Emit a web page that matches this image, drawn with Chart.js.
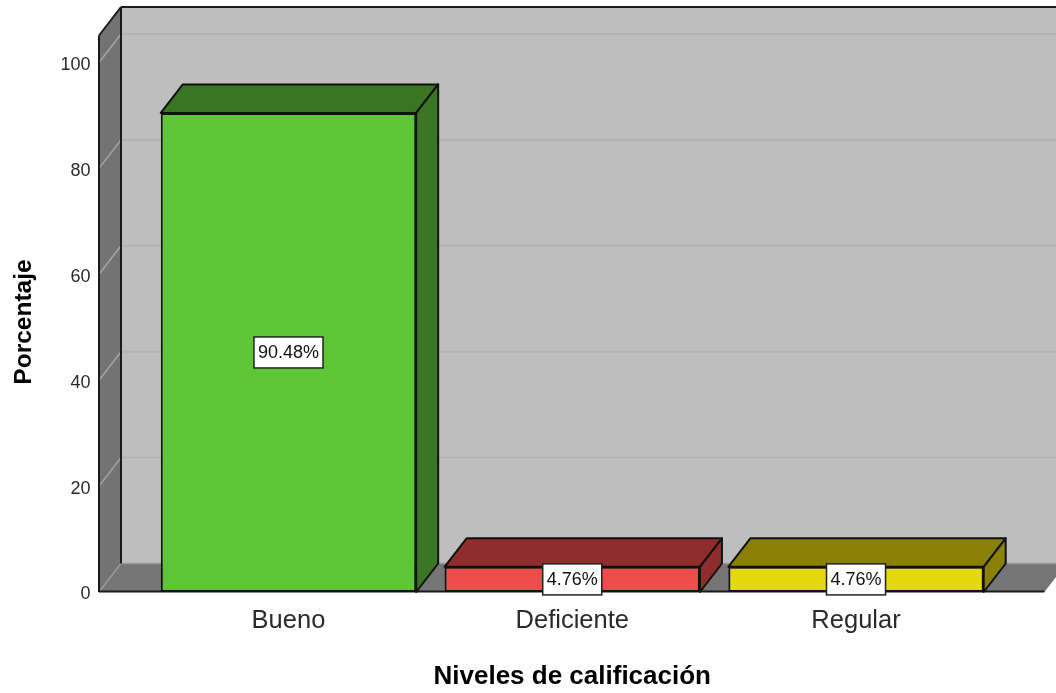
<!DOCTYPE html>
<html>
<head>
<meta charset="utf-8">
<script src="https://cdn.jsdelivr.net/npm/chart.js@4/dist/chart.umd.min.js"></script>
<style>
html,body{margin:0;padding:0;background:#fff;overflow:hidden}
canvas{display:block;filter:blur(0.45px)}
</style>
</head>
<body>
<canvas id="c" width="1056" height="693"></canvas>
<script>
const categories = ['Bueno', 'Deficiente', 'Regular'];
const values = [90.48, 4.76, 4.76];
const frontColors = ['#5DC536', '#EF4C4C', '#E6D80E'];
const depthColors = ['#3A7523', '#8F2D2D', '#8A8006'];
const yTicks = [0, 20, 40, 60, 80, 100];
const yTitle = 'Porcentaje';
const xTitle = 'Niveles de calificación';

const DX = 22, DY = -28.5;
const FONT = '"Liberation Sans", Arial, sans-serif';

function poly(ctx, pts, fill, stroke, lw) {
  ctx.beginPath();
  pts.forEach((p, i) => i ? ctx.lineTo(p[0], p[1]) : ctx.moveTo(p[0], p[1]));
  ctx.closePath();
  if (fill) { ctx.fillStyle = fill; ctx.fill(); }
  if (stroke) { ctx.strokeStyle = stroke; ctx.lineWidth = lw; ctx.lineJoin = 'round'; ctx.stroke(); }
}
function line(ctx, x1, y1, x2, y2, color, lw) {
  ctx.beginPath(); ctx.moveTo(x1, y1); ctx.lineTo(x2, y2);
  ctx.strokeStyle = color; ctx.lineWidth = lw; ctx.stroke();
}

const box3d = {
  id: 'box3d',
  beforeDatasetsDraw(chart) {
    const { ctx, chartArea: a, scales: { y } } = chart;
    const L = a.left - 47.6, R = a.right + 46.5, T = a.top, B = a.bottom;
    ctx.save();
    poly(ctx, [[L + DX, T + DY], [1060, T + DY], [1060, B + DY], [L + DX, B + DY]], '#BEBEBE');
    poly(ctx, [[L, T], [L + DX, T + DY], [L + DX, B + DY], [L, B]], '#737373');
    poly(ctx, [[L, B], [L + DX, B + DY], [R + DX, B + DY], [R, B]], '#757575');
    yTicks.forEach(v => {
      const p = y.getPixelForValue(v);
      if (v > 0) line(ctx, L + DX, p + DY, 1060, p + DY, '#B3B3B3', 2);
      line(ctx, L, p, L + DX, p + DY, v > 0 ? '#A6A6A6' : '#9A9A9A', 1.5);
    });
    line(ctx, L + DX, B + DY, 1060, B + DY, '#999999', 1.5);
    line(ctx, L + DX, T + DY, 1060, T + DY, '#1A1A1A', 2);
    line(ctx, L + DX, T + DY, L + DX, B + DY, '#1A1A1A', 2);
    line(ctx, L, T, L + DX, T + DY, '#1A1A1A', 2);
    line(ctx, L, T, L, B, '#1A1A1A', 2);
    line(ctx, L, B - 0.5, R, B - 0.5, '#1A1A1A', 2);
    chart.getDatasetMeta(0).data.forEach((bar, i) => {
      const l = bar.x - bar.width / 2, r = bar.x + bar.width / 2, t = bar.y, b = bar.base;
      poly(ctx, [[l, t], [l + DX, t + DY], [r + DX, t + DY], [r, t]], depthColors[i], '#111', 2);
      poly(ctx, [[r, t], [r + DX, t + DY], [r + DX, b + DY], [r, b]], depthColors[i], '#111', 2);
    });
    ctx.restore();
  },
  afterDatasetsDraw(chart) {
    const { ctx } = chart;
    ctx.save();
    ctx.font = '18px ' + FONT;
    ctx.textAlign = 'center';
    ctx.textBaseline = 'middle';
    chart.getDatasetMeta(0).data.forEach((bar, i) => {
      const txt = values[i].toFixed(2) + '%';
      const w = ctx.measureText(txt).width + 8, h = 31;
      const cy = (bar.y + bar.base) / 2;
      ctx.fillStyle = '#fff';
      ctx.fillRect(bar.x - w / 2, cy - h / 2, w, h);
      ctx.strokeStyle = '#222';
      ctx.lineWidth = 1.5;
      ctx.strokeRect(bar.x - w / 2, cy - h / 2, w, h);
      ctx.fillStyle = '#111';
      ctx.fillText(txt, bar.x, cy + 1);
    });
    ctx.translate(24, 322);
    ctx.rotate(-Math.PI / 2);
    ctx.font = 'bold 24.5px ' + FONT;
    ctx.fillStyle = '#000';
    ctx.fillText(yTitle, 0, 0);
    ctx.restore();
  }
};

new Chart(document.getElementById('c'), {
  type: 'bar',
  data: {
    labels: categories,
    datasets: [{
      data: values,
      backgroundColor: frontColors,
      borderColor: '#111',
      borderWidth: 2,
      borderSkipped: false,
      barPercentage: 0.9,
      categoryPercentage: 1
    }]
  },
  plugins: [box3d],
  options: {
    responsive: false,
    animation: false,
    events: [],
    layout: { padding: { top: 35.5, right: 58.1, left: 0, bottom: 0 } },
    plugins: { legend: { display: false }, tooltip: { enabled: false }, title: { display: false } },
    scales: {
      x: {
        type: 'category',
        grid: { display: false, drawTicks: false },
        border: { display: false },
        afterFit(s) { s.height = 101; },
        ticks: { color: '#2a2a2a', font: { family: FONT, size: 25.5 }, padding: 14, autoSkip: false, maxRotation: 0 },
        title: { display: true, text: xTitle, color: '#000', font: { family: FONT, size: 26, weight: 'bold' }, padding: { top: 0, bottom: 1 } }
      },
      y: {
        min: 0,
        max: 105.1,
        afterBuildTicks(s) { s.ticks = yTicks.map(v => ({ value: v })); },
        afterFit(s) { s.width = 146.6; s.paddingTop = 0; s.paddingBottom = 0; },
        grid: { display: false, drawTicks: false },
        border: { display: false },
        ticks: { color: '#2a2a2a', font: { family: FONT, size: 18 }, padding: 56, labelOffset: 2.5 }
      }
    }
  }
});
</script>
</body>
</html>
